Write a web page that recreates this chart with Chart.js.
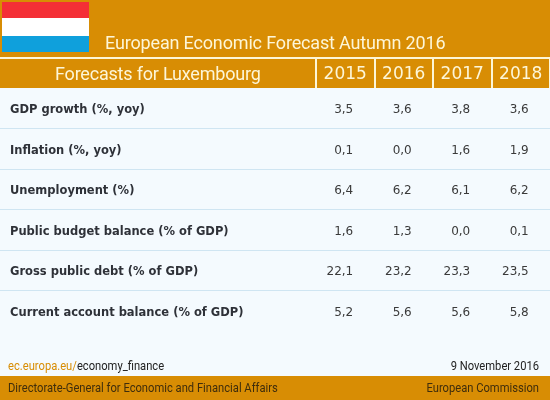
<!DOCTYPE html>
<html>
<head>
<meta charset="utf-8">
<title>Forecasts for Luxembourg</title>
<script src="https://cdn.jsdelivr.net/npm/chart.js@4"></script>
<style>
  html, body { margin: 0; padding: 0; background: #f4fafe; }
  canvas { display: block; }
</style>
</head>
<body>
<canvas id="chart" width="550" height="400"></canvas>
<script>
const years = ['2015', '2016', '2017', '2018'];
const indicators = [
  'GDP growth (%, yoy)',
  'Inflation (%, yoy)',
  'Unemployment (%)',
  'Public budget balance (% of GDP)',
  'Gross public debt (% of GDP)',
  'Current account balance (% of GDP)'
];
const values2015 = [3.5, 0.1, 6.4, 1.6, 22.1, 5.2];
const values2016 = [3.6, 0.0, 6.2, 1.3, 23.2, 5.6];
const values2017 = [3.8, 1.6, 6.1, 0.0, 23.3, 5.6];
const values2018 = [3.6, 1.9, 6.2, 0.1, 23.5, 5.8];
const seriesValues = [values2015, values2016, values2017, values2018];

const ORANGE = '#d88d04';
const CREAM = '#fdf6d8';
const PAPER = '#f4fafe';
const RULE = '#cfe5f2';
const INK = '#3a3a3a';
const FOOT_INK = '#3f2d0c';
const FOOT_SQUEEZE = 0.86;

// the footer face is a condensed one, so squeeze Roboto sideways
function footText(c, text, x, y) {
  c.save();
  c.translate(x, y);
  c.scale(FOOT_SQUEEZE, 1);
  c.fillText(text, 0, 0);
  c.restore();
}

// bands, flag and the header/footer text around the table
const frame = {
  id: 'frame',
  beforeDraw(chart) {
    const c = chart.ctx;
    const w = chart.width;
    c.save();
    c.fillStyle = PAPER;
    c.fillRect(0, 0, w, chart.height);
    c.fillStyle = ORANGE;
    c.fillRect(0, 0, w, 88);
    c.fillRect(0, 376, w, 24);
    c.fillStyle = CREAM;
    c.fillRect(0, 57, w, 2);

    c.fillStyle = '#f42f36';
    c.fillRect(2, 2, 87, 16);
    c.fillStyle = '#ffffff';
    c.fillRect(2, 18, 87, 18);
    c.fillStyle = '#0fa0dc';
    c.fillRect(2, 36, 87, 16);

    c.textBaseline = 'alphabetic';
    c.fillStyle = CREAM;
    c.font = '18px Roboto';
    c.letterSpacing = '-0.16px';
    c.fillText('European Economic Forecast Autumn 2016', 105, 49);
    c.letterSpacing = '-0.2px';
    c.fillText('Forecasts for Luxembourg', 55, 80);
    c.letterSpacing = '0px';

    c.font = '13px Roboto';
    c.fillStyle = FOOT_INK;
    footText(c, 'Directorate-General for Economic and Financial Affairs', 8, 392);
    c.textAlign = 'right';
    footText(c, 'European Commission', 539, 392);
    c.fillStyle = '#222222';
    footText(c, '9 November 2016', 539, 370);
    c.textAlign = 'left';
    c.fillStyle = ORANGE;
    footText(c, 'ec.europa.eu/', 8, 370);
    const w1 = c.measureText('ec.europa.eu/').width * FOOT_SQUEEZE;
    c.fillStyle = '#222222';
    footText(c, 'economy_finance', 8 + w1, 370);
    c.restore();
  },
  afterDatasetsDraw(chart) {
    const c = chart.ctx;
    c.save();
    c.font = '12px "DejaVu Sans"';
    c.fillStyle = INK;
    c.textAlign = 'right';
    c.textBaseline = 'middle';
    chart.data.datasets.forEach((ds, i) => {
      chart.getDatasetMeta(i).data.forEach((pt, j) => {
        // the figures line up on the right, a little past the column middle
        c.fillText(seriesValues[i][j].toFixed(1).replace('.', ','), pt.x + 8, pt.y + 2);
      });
    });
    c.restore();
  }
};

new Chart(document.getElementById('chart'), {
  type: 'line',
  data: {
    datasets: years.map((year, i) => ({
      label: year,
      showLine: false,
      pointRadius: 0,
      data: indicators.map((name) => ({ x: year, y: name }))
    }))
  },
  plugins: [frame],
  options: {
    responsive: false,
    animation: false,
    devicePixelRatio: 1,
    layout: { padding: { top: 59, bottom: 69, left: 0, right: 0 } },
    plugins: { legend: { display: false }, tooltip: { enabled: false }, title: { display: false } },
    scales: {
      x: {
        type: 'category',
        labels: years,
        position: 'top',
        offset: true,
        afterFit(scale) { scale.height = 29; },
        border: { display: false },
        grid: {
          offset: true,
          color: PAPER,
          lineWidth: 2,
          tickColor: CREAM,
          tickWidth: 2,
          tickLength: 29
        },
        ticks: { color: CREAM, font: { family: 'DejaVu Sans', size: 17 }, padding: -26, maxRotation: 0, autoSkip: false }
      },
      y: {
        type: 'category',
        labels: indicators,
        offset: true,
        afterFit(scale) { scale.width = 316; },
        border: { display: false },
        grid: {
          offset: true,
          color: (ctx) => (ctx.index > 0 ? RULE : 'rgba(0,0,0,0)'),
          tickColor: (ctx) => (ctx.index > 0 ? RULE : 'rgba(0,0,0,0)'),
          tickLength: 316
        },
        ticks: {
          mirror: true,
          padding: -306,
          labelOffset: 2,
          autoSkip: false,
          color: '#2e3138',
          font: { family: 'DejaVu Sans', size: 11.5, weight: 'bold' }
        }
      }
    }
  }
});
</script>
</body>
</html>
